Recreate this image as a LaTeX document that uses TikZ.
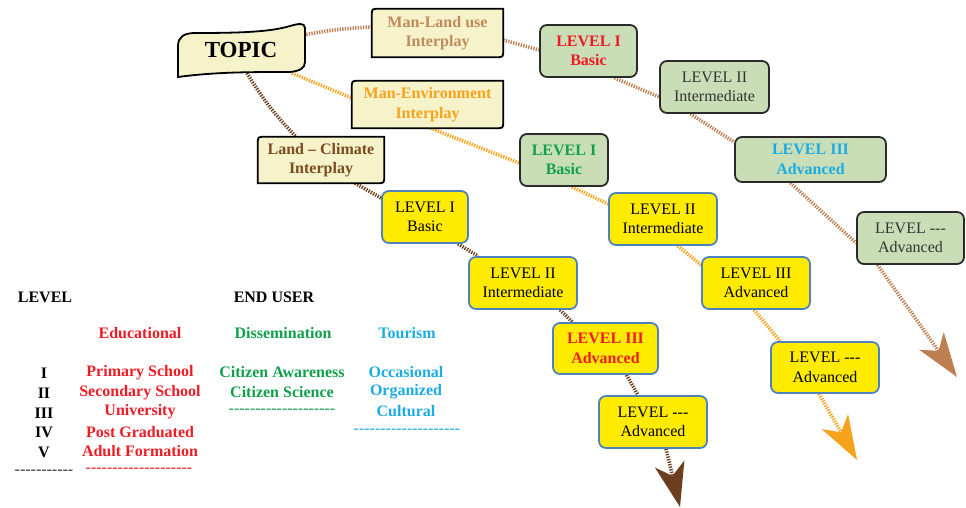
\documentclass[tikz,border=0pt]{standalone}
\usepackage{fontspec}
\setmainfont{Liberation Serif}
\usetikzlibrary{arrows.meta}
\pgfdeclarelayer{conn}
\pgfdeclarelayer{shapes}
\pgfsetlayers{conn,shapes,main}
\definecolor{beige}{HTML}{F6F2C9}
\definecolor{gfill}{HTML}{C9DEB6}
\definecolor{gborder}{HTML}{2A2A2A}
\definecolor{yfill}{HTML}{FFEB00}
\definecolor{yborder}{HTML}{4F81BD}
\definecolor{darktext}{HTML}{333333}
\definecolor{tanc}{HTML}{C08A5E}
\definecolor{tanl}{HTML}{BD7F52}
\definecolor{orc}{HTML}{F7A21B}
\definecolor{brc}{HTML}{7B4B22}
\definecolor{brl}{HTML}{6B3F1E}
\definecolor{redc}{HTML}{EE1C25}
\definecolor{greenc}{HTML}{10A04C}
\definecolor{cyanc}{HTML}{1CACE4}
\newcommand\hy{-\kern0pt }
\newcommand\beigeframe[1]{%
  \begin{pgfonlayer}{shapes}
  \draw[beigeline] (#1.south west) -- ([yshift=-7pt]#1.north west) .. controls (#1.north west) .. ([xshift=7pt]#1.north west) -- (#1.north east) -- ([yshift=7pt]#1.south east) .. controls (#1.south east) .. ([xshift=-7pt]#1.south east) -- cycle;
  \end{pgfonlayer}}
\begin{document}
\begin{tikzpicture}[x=1pt,y=-1pt,
  font=\fontsize{16}{19.5}\selectfont,
  box/.style={align=center, inner sep=0pt, line width=1.8pt, rounded corners=7pt},
  gbox/.style={box, draw=gborder, fill=gfill, text=darktext},
  ybox/.style={box, draw=yborder, fill=yfill, text=black},
  bbox/.style={align=center, inner sep=0pt, font=\fontsize{16}{19.5}\selectfont\bfseries},
  beigeline/.style={draw=black, fill=beige, line width=1.8pt},
  dotline/.style={line width=3.6pt, dash pattern=on 1.3pt off 1.3pt},
  tanline/.style={dotline, draw=tanl},
  orline/.style={dotline, draw=orc},
  brline/.style={dotline, draw=brl},
  bigtip/.style={-{Stealth[length=44pt,width=30pt,inset=12pt]}},
  leg/.style={inner sep=0pt, font=\fontsize{16}{19}\selectfont\bfseries},
  dsh/.style={inner sep=0pt, font=\fontsize{16}{19}\selectfont}
]
\useasboundingbox (0,0) rectangle (966,508);
\begin{pgfonlayer}{conn}
\fill[white] (0,0) rectangle (966,508);
\end{pgfonlayer}

% TOPIC
\begin{pgfonlayer}{shapes}
\draw[line width=1.8pt, draw=black, fill=beige] (178,77) -- (178,46) .. controls (178,37) and (184,33) .. (195,33) .. controls (240,33) and (270,32) .. (290,26) .. controls (297,24) and (305,22) .. (305,28) -- (305,62) .. controls (305,68) and (300,71) .. (290,72) .. controls (250,72) and (215,72) .. (178,77) -- cycle;
\end{pgfonlayer}
\node[inner sep=0pt, minimum width=125pt, minimum height=46pt, font=\fontsize{23}{26}\selectfont\bfseries] (topic) at (241,50) {TOPIC};

% beige boxes
\node[bbox, text=tanc, minimum width=131pt, minimum height=48pt] (ml) at (437.5,33) {Man-Land use\\Interplay};
\node[bbox, text=orc, minimum width=151pt, minimum height=47pt] (me) at (427.5,104.5) {Man-Environment\\Interplay};
\node[bbox, text=brc, minimum width=126pt, minimum height=46pt] (lc) at (321,160) {Land -- Climate\\Interplay};
\beigeframe{ml}
\beigeframe{me}
\beigeframe{lc}

% green boxes
\node[gbox, minimum width=97pt, minimum height=52pt, text=redc, font=\fontsize{16}{19.5}\selectfont\bfseries] (g1) at (588.5,51) {LEVEL I\\Basic};
\node[gbox, minimum width=109pt, minimum height=52pt] (g2) at (714.5,87) {LEVEL II\\Intermediate};
\node[gbox, minimum width=151pt, minimum height=45pt, text=cyanc, font=\fontsize{16}{19.5}\selectfont\bfseries] (g3) at (810.5,159.5) {LEVEL III\\Advanced};
\node[gbox, minimum width=107pt, minimum height=52pt] (g4) at (910.5,238) {LEVEL \hy\hy\hy\\Advanced};
\node[gbox, minimum width=88pt, minimum height=52pt, text=greenc, font=\fontsize{16}{19.5}\selectfont\bfseries] (g5) at (564,160) {LEVEL I\\Basic};

% yellow boxes (orange chain)
\node[ybox, minimum width=108pt, minimum height=52pt] (yo2) at (663,219) {LEVEL II\\Intermediate};
\node[ybox, minimum width=108pt, minimum height=52pt] (yo3) at (756,283) {LEVEL III\\Advanced};
\node[ybox, minimum width=108pt, minimum height=51pt] (yo4) at (825,367.5) {LEVEL \hy\hy\hy\\Advanced};

% yellow boxes (brown chain)
\node[ybox, minimum width=86pt, minimum height=52pt] (yb1) at (425,217) {LEVEL I\\Basic};
\node[ybox, minimum width=108pt, minimum height=52pt] (yb2) at (523,283) {LEVEL II\\Intermediate};
\node[ybox, minimum width=105pt, minimum height=51pt, text=redc, font=\fontsize{16}{19.5}\selectfont\bfseries] (yb3) at (605.5,348.5) {LEVEL III\\Advanced};
\node[ybox, minimum width=108pt, minimum height=52pt] (yb4) at (653,422) {LEVEL \hy\hy\hy\\Advanced};

\coordinate (tipT) at (957,377);
\coordinate (tipO) at (857,460);
\coordinate (tipB) at (680,507);

% connectors
\begin{pgfonlayer}{conn}
\draw[tanline] ([yshift=15pt]topic.east) to[bend left=4] ([yshift=6pt]ml.west);
\draw[tanline] ([yshift=-7pt]ml.east) -- ([yshift=1pt]g1.west);
\draw[tanline] ([xshift=26pt]g1.south) -- ([yshift=-10pt]g2.west);
\draw[tanline] ([xshift=-24pt]g2.south) -- ([yshift=-6pt]g3.north west);
\draw[tanline] ([xshift=-20pt]g3.south) -- ([yshift=-5pt]g4.west);
\draw[tanline, bigtip] ([xshift=-33pt]g4.south) -- (tipT);

\draw[orline] ([xshift=51pt]topic.south) -- ([yshift=6.5pt]me.west);
\draw[orline] ([xshift=3pt]me.south) -- ([yshift=-3pt]g5.west);
\draw[orline] ([xshift=8pt]g5.south) -- ([yshift=15pt]yo2.west);
\draw[orline] ([xshift=15pt]yo2.south) -- ([yshift=18pt]yo3.west);
\draw[orline] ([xshift=-2pt]yo3.south) -- ([xshift=-45pt]yo4.north);
\draw[orline, bigtip] ([xshift=-6pt]yo4.south) -- (tipO);

\draw[brline] ([xshift=6pt]topic.south) to[bend right=6] ([xshift=-25pt]lc.north);
\draw[brline] ([xshift=34pt]lc.south) -- ([yshift=19pt]yb1.west);
\draw[brline] ([xshift=33pt]yb1.south) -- ([xshift=-45pt]yb2.north);
\draw[brline] ([xshift=37pt]yb2.south) -- ([xshift=-33pt]yb3.north);
\draw[brline] ([xshift=21pt]yb3.south) -- ([xshift=-15pt]yb4.north);
\draw[brline, bigtip] ([xshift=13pt]yb4.south) -- (tipB);
\end{pgfonlayer}

% legend
\node[leg] (lvl) at (45,297) {LEVEL};
\node[leg] (eu) at (274,297) {END USER};
\node[leg, text=redc] (edu) at (140,333) {Educational};
\node[leg, text=greenc] (dis) at (283,333) {Dissemination};
\node[leg, text=cyanc] (tou) at (407,333) {Tourism};

\node[leg] (r1) at (44,373) {I};
\node[leg] (r2) at (44,393) {II};
\node[leg] (r3) at (44,413) {III};
\node[leg] (r4) at (44,432) {IV};
\node[leg] (r5) at (44,452) {V};
\node[dsh, text=darktext] (rd) at (44,472) {\hy\hy\hy\hy\hy\hy\hy\hy\hy\hy\hy};

\node[leg, text=redc] (e1) at (140,373) {Primary School};
\node[leg, text=redc] (e2) at (140,393) {Secondary School};
\node[leg, text=redc] (e3) at (140,412) {University};
\node[leg, text=redc] (e4) at (140,432) {Post Graduated};
\node[leg, text=redc] (e5) at (140,451) {Adult Formation};
\node[dsh, text=redc] (ed) at (139,470) {\hy\hy\hy\hy\hy\hy\hy\hy\hy\hy\hy\hy\hy\hy\hy\hy\hy\hy\hy\hy};

\node[leg, text=greenc] (d1) at (282,372) {Citizen Awareness};
\node[leg, text=greenc] (d2) at (282,392) {Citizen Science};
\node[dsh, text=greenc] (dd) at (282,411) {\hy\hy\hy\hy\hy\hy\hy\hy\hy\hy\hy\hy\hy\hy\hy\hy\hy\hy\hy\hy};

\node[leg, text=cyanc] (t1) at (406,372) {Occasional};
\node[leg, text=cyanc] (t2) at (406,392) {Organized};
\node[leg, text=cyanc] (t3) at (406,411) {Cultural};
\node[dsh, text=cyanc] (td) at (407,431) {\hy\hy\hy\hy\hy\hy\hy\hy\hy\hy\hy\hy\hy\hy\hy\hy\hy\hy\hy\hy};
\end{tikzpicture}
\end{document}
